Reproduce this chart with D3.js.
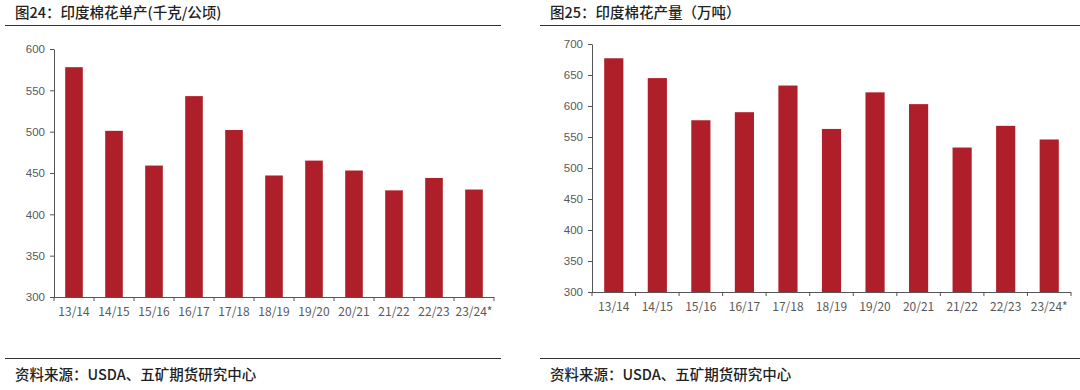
<!DOCTYPE html>
<html><head><meta charset="utf-8">
<script src="https://cdn.jsdelivr.net/npm/d3@7"></script>
<style>
html,body{margin:0;padding:0;background:#fff;}
svg text{font-family:"Noto Sans CJK SC","Noto Sans",sans-serif;}
.tick text{font-family:"Liberation Sans",Arial,sans-serif;}
</style></head>
<body><svg id="c" width="1080" height="390"></svg>
<script>
const categories = ["13/14","14/15","15/16","16/17","17/18","18/19","19/20","20/21","21/22","22/23","23/24*"];
const yieldValues = [578, 501, 459, 543, 502, 447, 465, 453, 429, 444, 430];
const productionValues = [677, 645, 577, 590, 633, 563, 622, 603, 533, 568, 546];
const yieldTicks = [300, 350, 400, 450, 500, 550, 600];
const productionTicks = [300, 350, 400, 450, 500, 550, 600, 650, 700];
const titles = ["图24：印度棉花单产(千克/公顷)", "图25：印度棉花产量（万吨）"];
const source = "资料来源：USDA、五矿期货研究中心";

const svg = d3.select("#c");
const barColor = "#AE1F29";

function panel(cfg){
  const g = svg.append("g");
  g.append("text").attr("x", cfg.px + 10).attr("y", 18)
    .attr("font-size", 14.5).attr("font-weight", 500).attr("fill", "#222").text(cfg.title);
  g.append("line").attr("x1", cfg.px).attr("x2", cfg.px + cfg.pw)
    .attr("y1", 25.5).attr("y2", 25.5).attr("stroke", "#333").attr("stroke-width", 1);
  g.append("line").attr("x1", cfg.px).attr("x2", cfg.px + cfg.pw)
    .attr("y1", 358.5).attr("y2", 358.5).attr("stroke", "#333").attr("stroke-width", 1);
  g.append("text").attr("x", cfg.px + 10).attr("y", 380)
    .attr("font-size", 14.5).attr("font-weight", 500).attr("fill", "#222").text(source);

  const x = d3.scaleBand().domain(categories).range([cfg.x0, cfg.x1]).paddingInner(cfg.pad).paddingOuter(cfg.pad/2);
  const y = d3.scaleLinear().domain(cfg.domain).range([cfg.y0, cfg.y1]);

  g.selectAll("rect.bar").data(cfg.values).enter().append("rect")
    .attr("class","bar")
    .attr("x", (d,i) => x(categories[i]))
    .attr("width", x.bandwidth())
    .attr("y", d => y(d))
    .attr("height", d => y(cfg.domain[0]) - y(d))
    .attr("fill", barColor);

  const ya = g.append("g").attr("transform", `translate(${cfg.x0},0)`)
    .call(d3.axisLeft(y).tickValues(cfg.ticks).tickSize(4).tickSizeOuter(0).tickPadding(5));
  ya.select(".domain").attr("stroke", "#555");
  ya.selectAll(".tick line").attr("stroke", "#555");
  ya.selectAll(".tick text").attr("fill", "#595959").attr("font-size", 11.5);

  const xa = g.append("g").attr("transform", `translate(0,${cfg.y0})`);
  xa.append("line").attr("x1", cfg.x0).attr("x2", cfg.x1).attr("y1", 0.5).attr("y2", 0.5).attr("stroke", "#555");
  const bounds = d3.range(categories.length + 1).map(i => cfg.x0 + i * (cfg.x1 - cfg.x0) / categories.length);
  xa.selectAll("line.t").data(bounds).enter().append("line")
    .attr("x1", d => d).attr("x2", d => d).attr("y1", 0).attr("y2", 4).attr("stroke", "#555");
  xa.selectAll("text.l").data(categories).enter().append("text")
    .attr("x", d => x(d) + x.bandwidth()/2).attr("y", 19)
    .attr("text-anchor", "middle").attr("font-size", 12).attr("fill", "#595959")
    .attr("font-family", "Liberation Sans, Arial, sans-serif")
    .text(d => d);
}

panel({px: 5, pw: 496, title: titles[0], x0: 54, x1: 494, y0: 297, y1: 49,
  domain: [300, 600], ticks: yieldTicks, values: yieldValues, pad: 0.56});
panel({px: 540, pw: 540, title: titles[1], x0: 592, x1: 1071, y0: 292, y1: 44,
  domain: [300, 700], ticks: productionTicks, values: productionValues, pad: 0.56});
</script></body></html>
